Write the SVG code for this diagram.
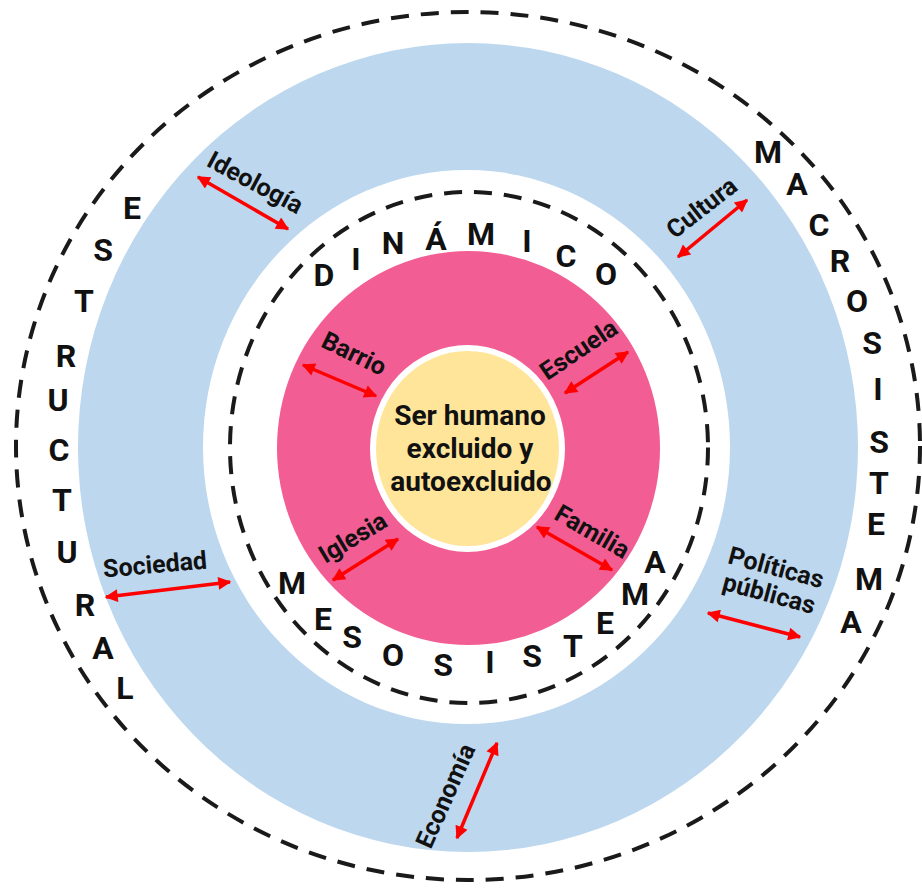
<svg xmlns="http://www.w3.org/2000/svg" width="922" height="888" viewBox="0 0 922 888">
<defs>
<style>
.big{font-family:Roboto,"Liberation Sans",sans-serif;font-weight:700;font-size:32px;fill:#111;text-anchor:middle}
.lbl{font-family:Roboto,"Liberation Sans",sans-serif;font-weight:700;font-size:25px;fill:#111;text-anchor:middle}
.ctr{font-family:Roboto,"Liberation Sans",sans-serif;font-weight:700;font-size:28px;fill:#111;text-anchor:middle}
.dash{fill:none;stroke:#1a1a1a;stroke-width:4;stroke-dasharray:18 12}
.arr{stroke:#FF0000;stroke-width:3.5;fill:none;marker-start:url(#ah);marker-end:url(#ah)}
</style>
<marker id="ah" viewBox="0 0 10 10" refX="9" refY="5" markerWidth="16" markerHeight="13" markerUnits="userSpaceOnUse" orient="auto-start-reverse">
<path d="M0,0 L10,5 L0,10 z" fill="#FF0000"/>
</marker>
</defs>
<rect width="922" height="888" fill="#FFFFFF"/>
<g id="outer">
<ellipse class="dash" cx="468" cy="446" rx="452" ry="434"/>
</g>
<g id="macro">
<ellipse cx="468" cy="447.5" rx="390" ry="404.5" fill="#BDD7EE"/>
</g>
<g id="meso">
<ellipse cx="466.5" cy="447" rx="263.5" ry="277" fill="#FFFFFF"/>
<ellipse class="dash" cx="469" cy="447.5" rx="239" ry="255.5"/>
</g>
<g id="micro">
<ellipse cx="468.5" cy="448" rx="191.5" ry="197" fill="#F25D93"/>
</g>
<g id="centro">
<ellipse cx="467.5" cy="448.5" rx="97.5" ry="103.5" fill="#FFFFFF"/>
<ellipse cx="467.5" cy="448.5" rx="91.5" ry="97.5" fill="#FFE599"/>
<text class="ctr" x="470" y="425">Ser humano</text>
<text class="ctr" x="470" y="458">excluido y</text>
<text class="ctr" x="471" y="491">autoexcluido</text>
</g>
<g id="estructural">
<text class="big" x="132" y="219">E</text>
<text class="big" x="103" y="261">S</text>
<text class="big" x="84" y="312">T</text>
<text class="big" x="66" y="367">R</text>
<text class="big" x="58" y="411">U</text>
<text class="big" x="59" y="461">C</text>
<text class="big" x="62" y="511">T</text>
<text class="big" x="67" y="563">U</text>
<text class="big" x="85" y="616">R</text>
<text class="big" x="103" y="659">A</text>
<text class="big" x="125" y="699">L</text>
</g>
<g id="macrosistema">
<text class="big" x="768" y="163">M</text>
<text class="big" x="797" y="195">A</text>
<text class="big" x="819" y="236">C</text>
<text class="big" x="840" y="272">R</text>
<text class="big" x="857" y="312">O</text>
<text class="big" x="872" y="354">S</text>
<text class="big" x="878" y="400">I</text>
<text class="big" x="879" y="453">S</text>
<text class="big" x="879" y="494">T</text>
<text class="big" x="876" y="535">E</text>
<text class="big" x="869" y="590">M</text>
<text class="big" x="851" y="633">A</text>
</g>
<g id="dinamico">
<text class="big" x="324" y="286">D</text>
<text class="big" x="356" y="270">I</text>
<text class="big" x="393" y="254">N</text>
<text class="big" x="436" y="250">Á</text>
<text class="big" x="481" y="245">M</text>
<text class="big" x="527" y="252">I</text>
<text class="big" x="566" y="267">C</text>
<text class="big" x="606" y="285">O</text>
</g>
<g id="mesosistema">
<text class="big" x="292" y="594">M</text>
<text class="big" x="323" y="630">E</text>
<text class="big" x="352" y="648">S</text>
<text class="big" x="393" y="666">O</text>
<text class="big" x="443" y="676">S</text>
<text class="big" x="490" y="673">I</text>
<text class="big" x="532" y="667">S</text>
<text class="big" x="573" y="657">T</text>
<text class="big" x="605" y="634">E</text>
<text class="big" x="635" y="605">M</text>
<text class="big" x="655" y="573">A</text>
</g>
<g id="labels">
<text class="lbl" transform="translate(255,183) rotate(28)" y="8">Ideología</text>
<text class="lbl" transform="translate(702,208) rotate(-38)" y="8">Cultura</text>
<text class="lbl" transform="translate(354,354) rotate(26)" y="8">Barrio</text>
<text class="lbl" transform="translate(579,350) rotate(-34)" y="8">Escuela</text>
<text class="lbl" transform="translate(353,538) rotate(-31)" y="8">Iglesia</text>
<text class="lbl" transform="translate(592,532) rotate(30)" y="8">Familia</text>
<text class="lbl" transform="translate(155,565) rotate(-5)" y="8">Sociedad</text>
<text class="lbl" transform="translate(776,568) rotate(15)" y="8">Políticas<tspan x="0" dy="27">públicas</tspan></text>
<text class="lbl" transform="translate(446,796) rotate(-66)" y="8">Economía</text>
</g>
<g id="connectors">
<line class="arr" x1="198" y1="177" x2="288" y2="229"/>
<line class="arr" x1="678" y1="257" x2="747" y2="200"/>
<line class="arr" x1="303" y1="365" x2="376" y2="396"/>
<line class="arr" x1="565" y1="393" x2="628" y2="352"/>
<line class="arr" x1="333" y1="580" x2="398" y2="539"/>
<line class="arr" x1="537" y1="527" x2="612" y2="570"/>
<line class="arr" x1="106" y1="597" x2="230" y2="582"/>
<line class="arr" x1="708" y1="613" x2="800" y2="637"/>
<line class="arr" x1="457" y1="838" x2="497" y2="743"/>
</g>
</svg>
